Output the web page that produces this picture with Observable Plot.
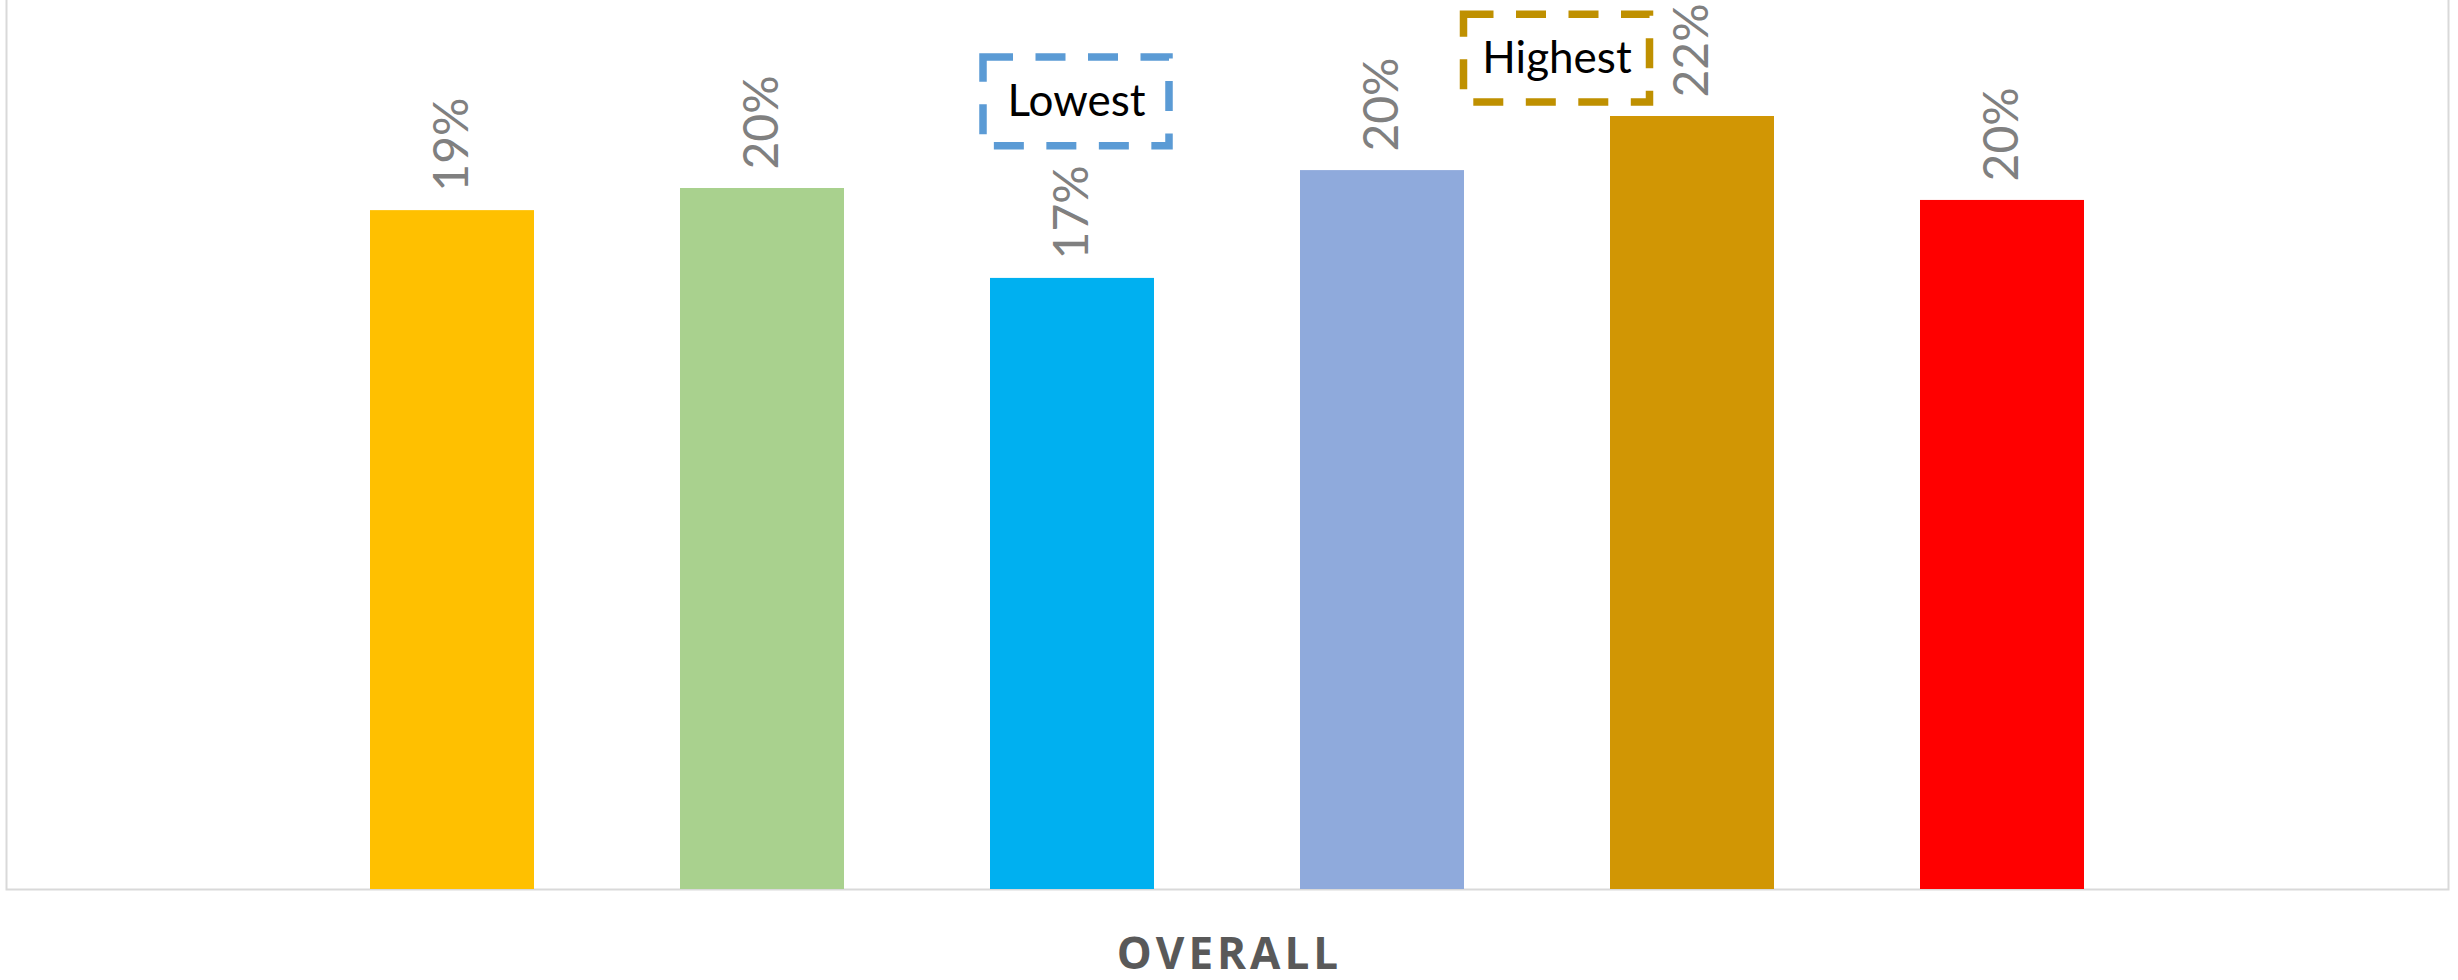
<!DOCTYPE html>
<html>
<head>
<meta charset="utf-8">
<script src="https://cdn.jsdelivr.net/npm/d3@7"></script>
<script src="https://cdn.jsdelivr.net/npm/@observablehq/plot@0.6"></script>
<style>
  html, body { margin: 0; padding: 0; background: #fff; overflow: hidden; }
</style>
</head>
<body>
<div id="chart"></div>
<script>
// Data
const series = ["Series 1", "Series 2", "Series 3", "Series 4", "Series 5", "Series 6"];
const values = [0.1933, 0.1996, 0.174, 0.2047, 0.2201, 0.1962];
const colors = ["#ffc000", "#a9d18e", "#00b0f0", "#8faadc", "#d19604", "#ff0000"];
const category = ["OVERALL"];
const annotationText = ["Lowest", "Highest"];
const annotationSeries = ["Series 3", "Series 5"];

const rows = series.map((s, i) => ({series: s, value: values[i], color: colors[i]}));
const fmt = d3.format(".0%");

const lowest = [{series: annotationSeries[0], text: annotationText[0], y1: 0.2116, y2: 0.2369}];
const highest = [{series: annotationSeries[1], text: annotationText[1], y1: 0.2241, y2: 0.2491}];

const chart = Plot.plot({
  width: 2458,
  height: 980,
  marginLeft: 6,
  marginRight: 10,
  marginTop: 11,
  marginBottom: 91,
  style: {background: "#fff", overflow: "hidden"},
  x: {type: "band", domain: series, paddingInner: 0.472, paddingOuter: 0.236, insetLeft: 288.6, insetRight: 288.6, axis: null},
  y: {domain: [0, 0.25], axis: null},
  marks: [
    Plot.frame({stroke: "#d9d9d9", strokeWidth: 2, insetTop: -30}),
    Plot.barY(rows, {x: "series", y: "value", fill: "color"}),
    Plot.text(rows, {
      x: "series", y: "value", text: d => fmt(d.value),
      rotate: -90, textAnchor: "start", lineAnchor: "middle", dy: -19,
      fill: "#808080", fontSize: 48, fontFamily: "Lato"
    }),
    Plot.rect(lowest, {
      x: "series", y1: "y1", y2: "y2", dx: 4, insetLeft: -11, insetRight: -11,
      fill: "none", stroke: "#5b9bd5", strokeWidth: 7.5, strokeDasharray: "30 22.5"
    }),
    Plot.text(lowest, {
      x: "series", y: d => (d.y1 + d.y2) / 2, text: "text", dx: 4,
      lineAnchor: "middle", fill: "#000", fontSize: 44, fontFamily: "Lato"
    }),
    Plot.rect(highest, {
      x: "series", y1: "y1", y2: "y2", dx: -135.5, insetLeft: -11, insetRight: -11,
      fill: "none", stroke: "#bf9000", strokeWidth: 7.5, strokeDasharray: "30 22.5"
    }),
    Plot.text(highest, {
      x: "series", y: d => (d.y1 + d.y2) / 2, text: "text", dx: -135.5,
      lineAnchor: "middle", fill: "#000", fontSize: 44, fontFamily: "Lato"
    }),
    Plot.text(category, {
      frameAnchor: "bottom", text: d => d, dy: 79, dx: 2, lineAnchor: "bottom",
      fill: "#595959", fontSize: 44, fontWeight: "bold", fontFamily: "Open Sans"
    })
  ]
});

d3.select(chart).selectAll("text")
  .filter(function() { return this.textContent === category[0]; })
  .style("letter-spacing", "4px");
document.getElementById("chart").appendChild(chart);
</script>
</body>
</html>
